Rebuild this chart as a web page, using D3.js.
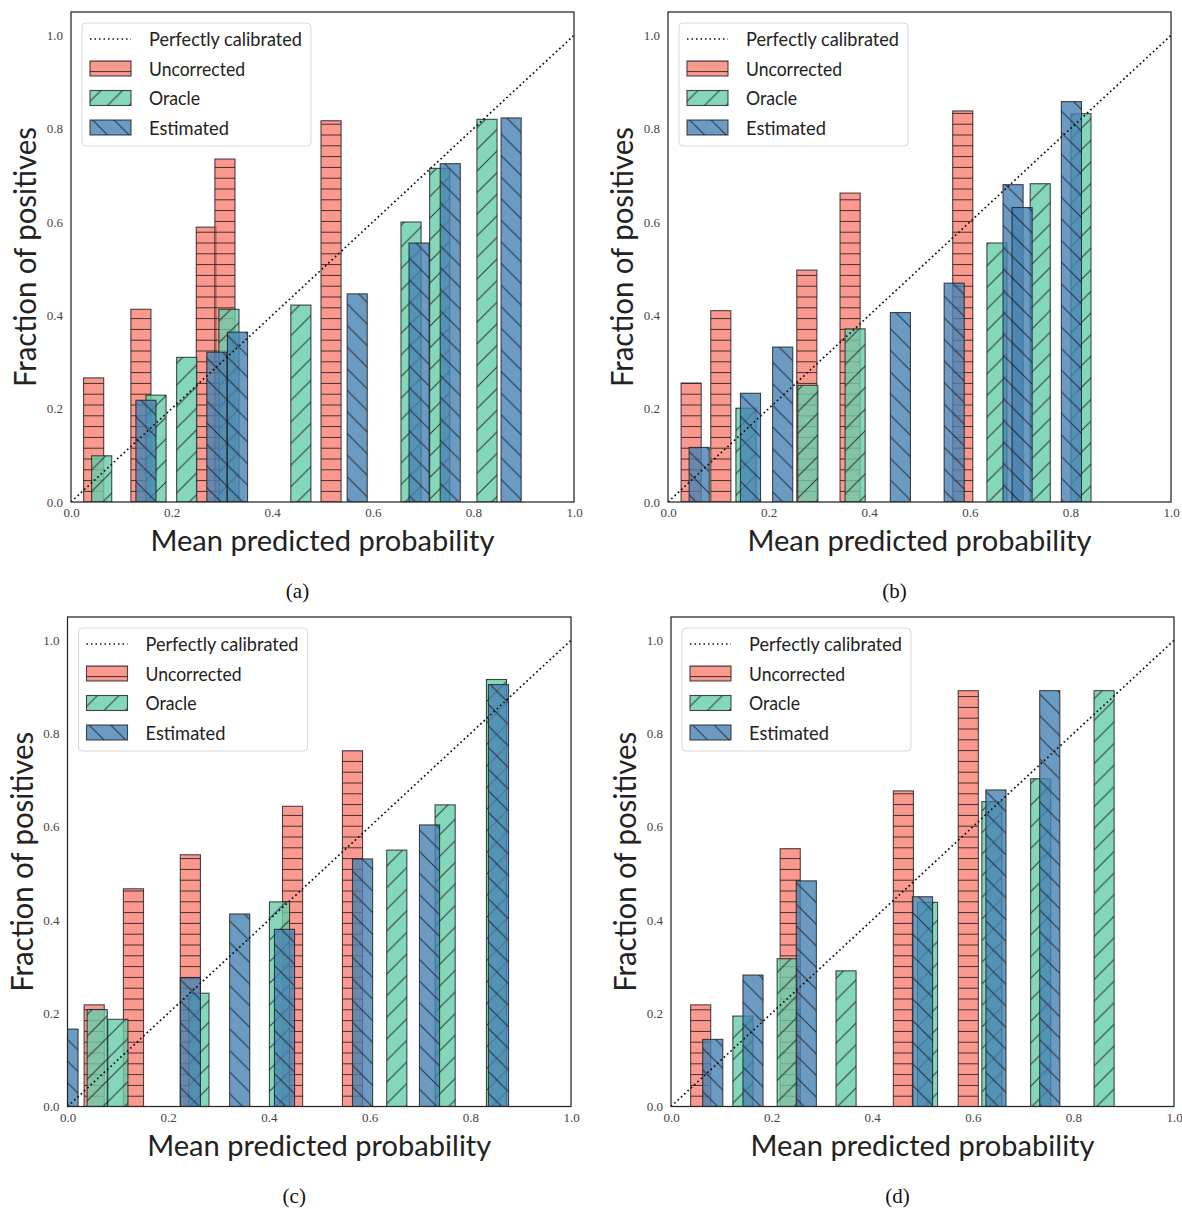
<!DOCTYPE html>
<html>
<head>
<meta charset="utf-8">
<script src="https://cdn.jsdelivr.net/npm/d3@7"></script>
<style>
  body { margin: 0; background: #fff; }
  svg { display: block; }
</style>
</head>
<body>
<svg id="chart" width="1182" height="1209"></svg>
<script>
// ---------- data ----------
const tickValues = [0, 0.2, 0.4, 0.6, 0.8, 1.0];
const tickLabels = ["0.0", "0.2", "0.4", "0.6", "0.8", "1.0"];
const seriesNames = ["Perfectly calibrated", "Uncorrected", "Oracle", "Estimated"];
const panelLabels = ["(a)", "(b)", "(c)", "(d)"];
const xTitle = "Mean predicted probability";
const yTitle = "Fraction of positives";

// panel (a)
const aUncX = [0.045, 0.139, 0.269, 0.306, 0.517];
const aUncY = [0.266, 0.413, 0.589, 0.735, 0.817];
const aOraX = [0.061, 0.169, 0.230, 0.314, 0.457, 0.676, 0.733, 0.827];
const aOraY = [0.099, 0.229, 0.310, 0.413, 0.422, 0.600, 0.715, 0.820];
const aEstX = [0.149, 0.290, 0.331, 0.569, 0.692, 0.754, 0.875];
const aEstY = [0.218, 0.321, 0.364, 0.446, 0.555, 0.725, 0.823];
// panel (b)
const bUncX = [0.046, 0.105, 0.276, 0.362, 0.586];
const bUncY = [0.255, 0.410, 0.497, 0.662, 0.838];
const bOraX = [0.155, 0.278, 0.372, 0.654, 0.740, 0.821];
const bOraY = [0.201, 0.250, 0.371, 0.555, 0.682, 0.832];
const bEstX = [0.062, 0.164, 0.228, 0.462, 0.569, 0.686, 0.704, 0.802];
const bEstY = [0.117, 0.233, 0.332, 0.406, 0.469, 0.680, 0.631, 0.858];
// panel (c)
const cUncX = [0.053, 0.131, 0.244, 0.447, 0.566];
const cUncY = [0.218, 0.467, 0.540, 0.644, 0.763];
const cOraX = [0.059, 0.100, 0.261, 0.421, 0.654, 0.750, 0.852];
const cOraY = [0.208, 0.187, 0.243, 0.439, 0.550, 0.647, 0.916];
const cEstX = [0.001, 0.244, 0.342, 0.431, 0.586, 0.719, 0.856];
const cEstY = [0.166, 0.276, 0.413, 0.380, 0.531, 0.604, 0.905];
// panel (d)
const dUncX = [0.059, 0.237, 0.462, 0.591];
const dUncY = [0.218, 0.553, 0.677, 0.892];
const dOraX = [0.143, 0.231, 0.348, 0.510, 0.638, 0.735, 0.861];
const dOraY = [0.194, 0.317, 0.291, 0.438, 0.654, 0.703, 0.892];
const dEstX = [0.083, 0.163, 0.269, 0.500, 0.646, 0.753];
const dEstY = [0.144, 0.282, 0.484, 0.450, 0.679, 0.892];

const barWidth = 0.04;

// ---------- layout / style ----------
const colors = { unc: "#FA8072", ora: "#66CDAA", est: "#4682B4" };
const hatchIds = { unc: "hatch-h", ora: "hatch-ne", est: "hatch-nw" };
const legendTextWidths = [153, 96, 51, 80];

const panels = [
  { L: 71,  T: 12,  R: 574,  B: 502,  label: panelLabels[0],
    series: { unc: [aUncX, aUncY], ora: [aOraX, aOraY], est: [aEstX, aEstY] } },
  { L: 668, T: 12,  R: 1171, B: 502,  label: panelLabels[1],
    series: { unc: [bUncX, bUncY], ora: [bOraX, bOraY], est: [bEstX, bEstY] } },
  { L: 67.5, T: 617, R: 571, B: 1106.5, label: panelLabels[2],
    series: { unc: [cUncX, cUncY], ora: [cOraX, cOraY], est: [cEstX, cEstY] } },
  { L: 671, T: 617, R: 1174, B: 1106.5, label: panelLabels[3],
    series: { unc: [dUncX, dUncY], ora: [dOraX, dOraY], est: [dEstX, dEstY] } }
];

const svg = d3.select("#chart");
const defs = svg.append("defs");

// hatch patterns
const hs = 10.8, ds = 21.6;
const hatchStroke = "#1e1e1e";
defs.append("pattern").attr("id", "hatch-h")
  .attr("patternUnits", "userSpaceOnUse").attr("width", 20).attr("height", hs)
  .append("line").attr("x1", 0).attr("x2", 20).attr("y1", hs / 2).attr("y2", hs / 2)
  .attr("stroke", hatchStroke).attr("stroke-width", 1);
defs.append("pattern").attr("id", "hatch-ne")
  .attr("patternUnits", "userSpaceOnUse").attr("width", ds).attr("height", ds)
  .append("path")
  .attr("d", `M0,${ds} L${ds},0 M-3,3 L3,-3 M${ds - 3},${ds + 3} L${ds + 3},${ds - 3}`)
  .attr("stroke", hatchStroke).attr("stroke-width", 1).attr("fill", "none");
defs.append("pattern").attr("id", "hatch-nw")
  .attr("patternUnits", "userSpaceOnUse").attr("width", ds).attr("height", ds)
  .append("path")
  .attr("d", `M0,0 L${ds},${ds} M-3,${ds - 3} L3,${ds + 3} M${ds - 3},-3 L${ds + 3},3`)
  .attr("stroke", hatchStroke).attr("stroke-width", 1).attr("fill", "none");

function drawBar(g, x0, y0, w, h, key) {
  g.append("rect").attr("x", x0).attr("y", y0).attr("width", w).attr("height", h)
    .attr("fill", colors[key]).attr("fill-opacity", 0.8);
  g.append("rect").attr("x", x0).attr("y", y0).attr("width", w).attr("height", h)
    .attr("fill", `url(#${hatchIds[key]})`).attr("opacity", 0.85);
  g.append("rect").attr("x", x0).attr("y", y0).attr("width", w).attr("height", h)
    .attr("fill", "none").attr("stroke", "#1e1e1e").attr("stroke-opacity", 0.8)
    .attr("stroke-width", 1.1);
}

panels.forEach((p, i) => {
  const x = d3.scaleLinear().domain([0, 1]).range([p.L, p.R]);
  const y = d3.scaleLinear().domain([0, 1.05]).range([p.B, p.T]);
  const g = svg.append("g");

  const clipId = "clip" + i;
  defs.append("clipPath").attr("id", clipId)
    .append("rect").attr("x", p.L).attr("y", p.T)
    .attr("width", p.R - p.L).attr("height", p.B - p.T);

  const plot = g.append("g").attr("clip-path", `url(#${clipId})`);

  // bars
  ["unc", "ora", "est"].forEach(key => {
    const [xs, ys] = p.series[key];
    const sg = plot.append("g");
    xs.forEach((xv, j) => {
      const x0 = x(xv - barWidth / 2);
      const w = x(xv + barWidth / 2) - x0;
      const y0 = y(ys[j]);
      drawBar(sg, x0, y0, w, y(0) - y0, key);
    });
  });

  // perfectly calibrated line
  plot.append("line")
    .attr("x1", x(0)).attr("y1", y(0)).attr("x2", x(1)).attr("y2", y(1))
    .attr("stroke", "#111").attr("stroke-width", 1.7)
    .attr("stroke-dasharray", "1.7,2.8");

  // frame
  g.append("rect").attr("x", p.L).attr("y", p.T)
    .attr("width", p.R - p.L).attr("height", p.B - p.T)
    .attr("fill", "none").attr("stroke", "#262626").attr("stroke-width", 1.25);

  // axes
  const xAxis = d3.axisBottom(x).tickValues(tickValues)
    .tickFormat((d, k) => tickLabels[k]).tickSize(0).tickPadding(6);
  const yAxis = d3.axisLeft(y).tickValues(tickValues)
    .tickFormat((d, k) => tickLabels[k]).tickSize(0).tickPadding(8);
  const gx = g.append("g").attr("transform", `translate(0,${p.B})`).call(xAxis);
  const gy = g.append("g").attr("transform", `translate(${p.L},0)`).call(yAxis);
  [gx, gy].forEach(a => {
    a.select(".domain").remove();
    a.selectAll("text").attr("font-family", "'Liberation Serif', serif")
      .attr("font-size", 13).attr("fill", "#444");
  });

  // axis titles
  g.append("text")
    .attr("x", (p.L + p.R) / 2).attr("y", p.B + 49)
    .attr("text-anchor", "middle")
    .attr("font-family", "Lato, 'Open Sans', sans-serif").attr("font-size", 29)
    .attr("fill", "#222")
    .attr("textLength", 344).attr("lengthAdjust", "spacingAndGlyphs")
    .text(xTitle);
  g.append("text")
    .attr("transform", `translate(${p.L - 35},${(p.T + p.B) / 2}) rotate(-90)`)
    .attr("text-anchor", "middle")
    .attr("font-family", "Lato, 'Open Sans', sans-serif").attr("font-size", 31)
    .attr("fill", "#222")
    .attr("textLength", 260).attr("lengthAdjust", "spacingAndGlyphs")
    .text(yTitle);

  // caption
  g.append("text")
    .attr("x", (p.L + p.R) / 2 - 25).attr("y", p.B + 96)
    .attr("text-anchor", "middle")
    .attr("font-family", "'Liberation Serif', serif").attr("font-size", 21)
    .attr("fill", "#111")
    .text(p.label);

  // legend
  const lg = g.append("g").attr("transform", `translate(${p.L + 11},${p.T + 11})`);
  lg.append("rect").attr("width", 229).attr("height", 123).attr("rx", 4)
    .attr("fill", "#fff").attr("fill-opacity", 0.85)
    .attr("stroke", "#d8d8d8").attr("stroke-width", 1);
  const rowY = [16, 45.5, 75, 104.5];
  lg.append("line").attr("x1", 8).attr("x2", 49).attr("y1", rowY[0]).attr("y2", rowY[0])
    .attr("stroke", "#111").attr("stroke-width", 1.5).attr("stroke-dasharray", "1.5,3");
  ["unc", "ora", "est"].forEach((key, k) => {
    drawBar(lg, 8, rowY[k + 1] - 7.5, 41, 15, key);
  });
  seriesNames.forEach((name, k) => {
    lg.append("text").attr("x", 67).attr("y", rowY[k] + 7)
      .attr("font-family", "Lato, 'Open Sans', sans-serif").attr("font-size", 19)
      .attr("fill", "#222")
      .attr("textLength", legendTextWidths[k]).attr("lengthAdjust", "spacingAndGlyphs")
      .text(name);
  });
});
</script>
</body>
</html>
